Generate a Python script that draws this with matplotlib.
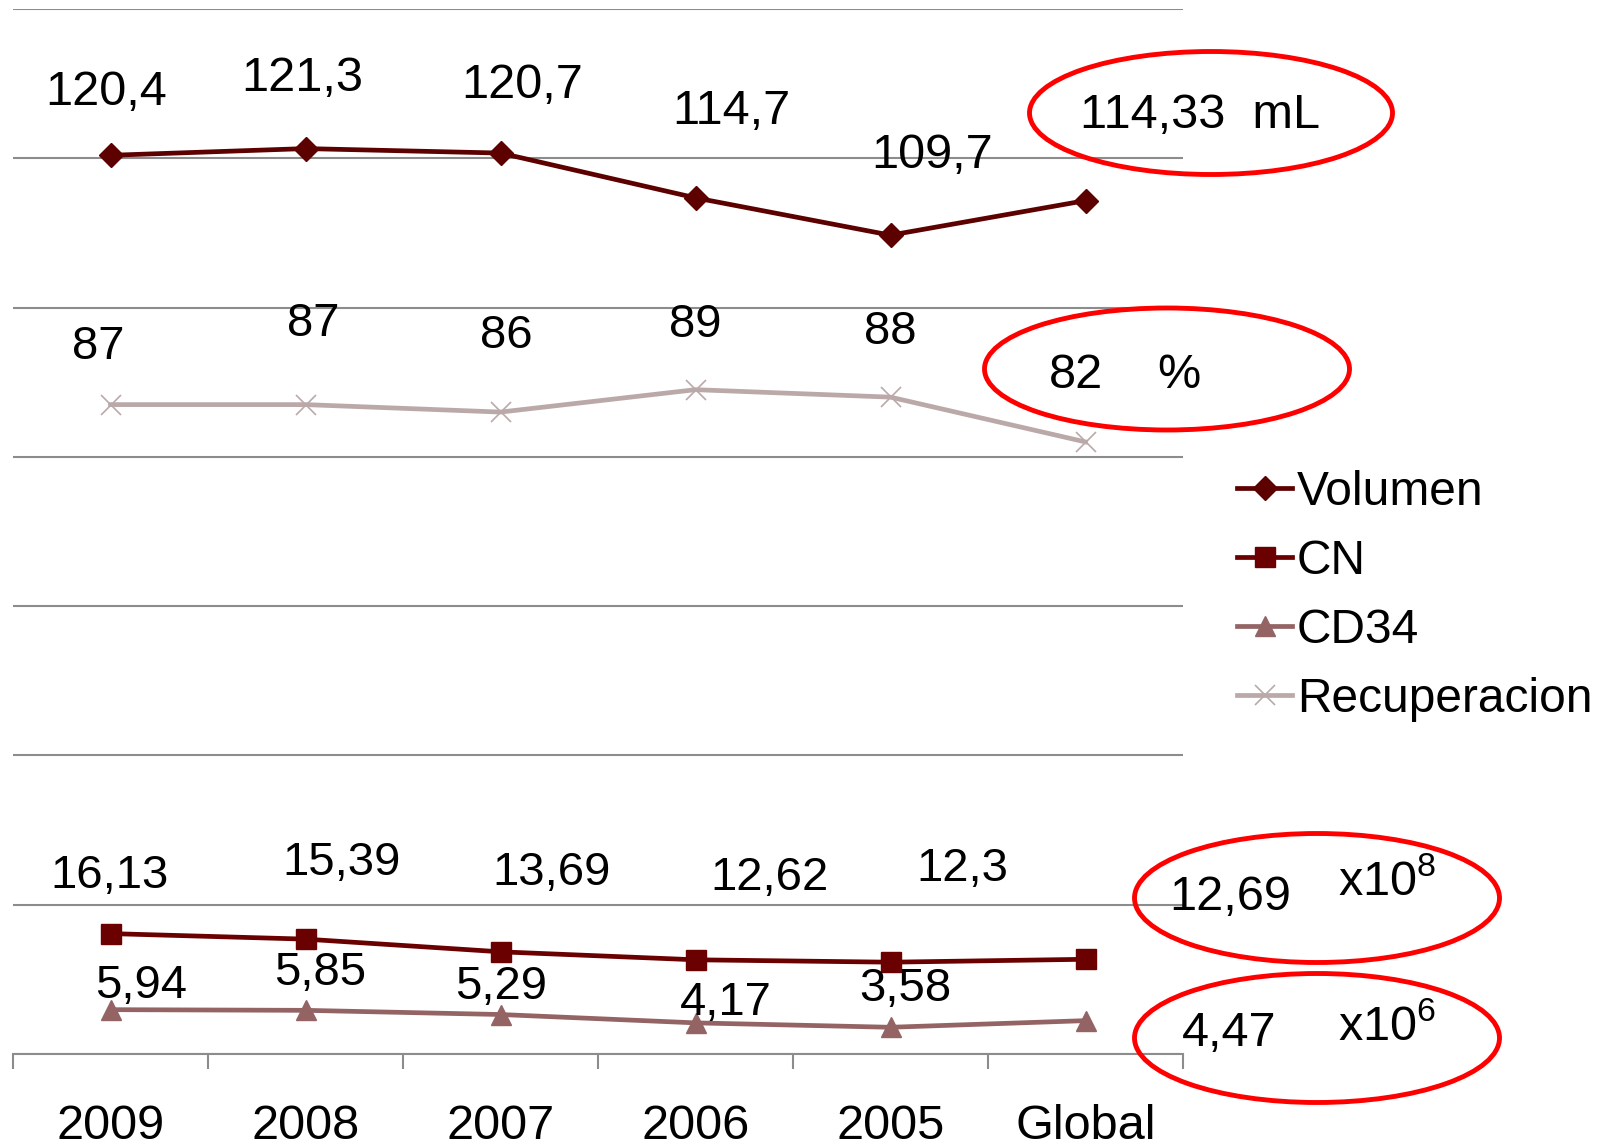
import matplotlib
matplotlib.use('Agg')
import matplotlib.pyplot as plt
from matplotlib.patches import Ellipse

plt.rcParams['font.family'] = ['Liberation Sans', 'DejaVu Sans']
plt.rcParams['mathtext.fontset'] = 'custom'
plt.rcParams['mathtext.rm'] = 'Liberation Sans'

# data
categories = ['2009', '2008', '2007', '2006', '2005', 'Global']
volumen = [120.4, 121.3, 120.7, 114.7, 109.7, 114.33]
cn = [16.13, 15.39, 13.69, 12.62, 12.3, 12.69]
cd34 = [5.94, 5.85, 5.29, 4.17, 3.58, 4.47]
recuperacion = [87, 87, 86, 89, 88, 82]

# labels shown above the points (global value goes into the red ellipses)
vol_labels = ['120,4', '121,3', '120,7', '114,7', '109,7']
cn_labels = ['16,13', '15,39', '13,69', '12,62', '12,3']
cd34_labels = ['5,94', '5,85', '5,29', '4,17', '3,58']
rec_labels = ['87', '87', '86', '89', '88']

# label offsets in pixels (dx, dy)
vol_off = [(-4, 63), (-3, 70), (22, 68), (36, 86), (42, 80)]
rec_off = [(-12, 58), (8, 81), (6, 76), (0, 65), (0, 65)]
cn_off = [(-1, 58), (36, 76), (51, 79), (74, 82), (72, 93)]
cd34_off = [(31, 24), (15, 37), (1, 28), (30, 20), (15, 38)]

W, H = 1597, 1146
fig = plt.figure(figsize=(W / 100, H / 100), dpi=100)
ax = fig.add_axes([13 / W, 1 - 1054 / H, 1170 / W, 1045 / H])

x = list(range(len(categories)))
c_vol = '#5c0000'
c_cn = '#6a0000'
c_cd = '#946464'
c_rec = '#bba9a9'

ax.plot(x, volumen, color=c_vol, lw=3.4, marker='D', ms=12.5, label='Volumen')
ax.plot(x, cn, color=c_cn, lw=3.4, marker='s', ms=14, label='CN')
ax.plot(x, cd34, color=c_cd, lw=3.4, marker='^', ms=15, label='CD34')
ax.plot(x, recuperacion, color=c_rec, lw=3.4, marker='x', ms=15, mew=1.2,
        label='Recuperacion')

def put_labels(vals, labels, offs, fs):
    for i, (lab, off) in enumerate(zip(labels, offs)):
        ax.annotate(lab, (i, vals[i]), xytext=off, textcoords='offset pixels',
                    ha='center', va='center', fontsize=fs, color='black')

put_labels(volumen, vol_labels, vol_off, 35)
put_labels(recuperacion, rec_labels, rec_off, 34)
put_labels(cn, cn_labels, cn_off, 34)
put_labels(cd34, cd34_labels, cd34_off, 34)

ax.set_xlim(-0.5, 5.5)
ax.set_ylim(0, 140)
ax.set_yticks(range(0, 141, 20))
ax.yaxis.grid(True, color='#8c8c8c', lw=1.5)
ax.tick_params(axis='y', left=False, labelleft=False)
for s in ['top', 'right', 'left']:
    ax.spines[s].set_visible(False)
ax.spines['bottom'].set_color('#8c8c8c')
ax.spines['bottom'].set_linewidth(1.5)

ax.set_xticks([i - 0.5 for i in range(7)])
ax.set_xticklabels([])
ax.tick_params(axis='x', which='major', direction='out', length=11,
               width=1.5, color='#8c8c8c')
ax.set_xticks(x, minor=True)
ax.set_xticklabels(categories, minor=True, fontsize=35)
ax.tick_params(axis='x', which='minor', length=0, pad=36)
ax.set_axisbelow(True)

ax.legend(loc='upper left', bbox_to_anchor=(1237 / W, 1 - 470 / H),
          bbox_transform=fig.transFigure, frameon=False, fontsize=34.5,
          handlelength=1.15, handletextpad=0.1, labelspacing=0.5,
          borderpad=0, borderaxespad=0)

# red ellipses with global values
def fx(px):
    return px / W

def fy(py):
    return 1 - py / H

ellipses = [(1211, 113, 363, 123), (1167, 369, 365, 122),
            (1317, 898, 365, 129), (1317, 1038, 365, 129)]
for cx, cy, ew, eh in ellipses:
    fig.add_artist(Ellipse((fx(cx), fy(cy)), ew / W, eh / H,
                           transform=fig.transFigure, fill=False,
                           edgecolor='#ff0000', lw=3.5))

fig.text(fx(1200), fy(115), '114,33  mL', fontsize=35, ha='center', va='center')
fig.text(fx(1076), fy(375), '82', fontsize=35, ha='center', va='center')
fig.text(fx(1179), fy(375), '%', fontsize=35, ha='center', va='center')
fig.text(fx(1230), fy(897), '12,69', fontsize=35, ha='center', va='center')
fig.text(fx(1387), fy(883), r'x10$^{\mathregular{8}}$', fontsize=35,
         ha='center', va='center')
fig.text(fx(1229), fy(1034), '4,47', fontsize=35, ha='center', va='center')
fig.text(fx(1387), fy(1028), r'x10$^{\mathregular{6}}$', fontsize=35,
         ha='center', va='center')

fig.savefig('out.png', dpi=100)
